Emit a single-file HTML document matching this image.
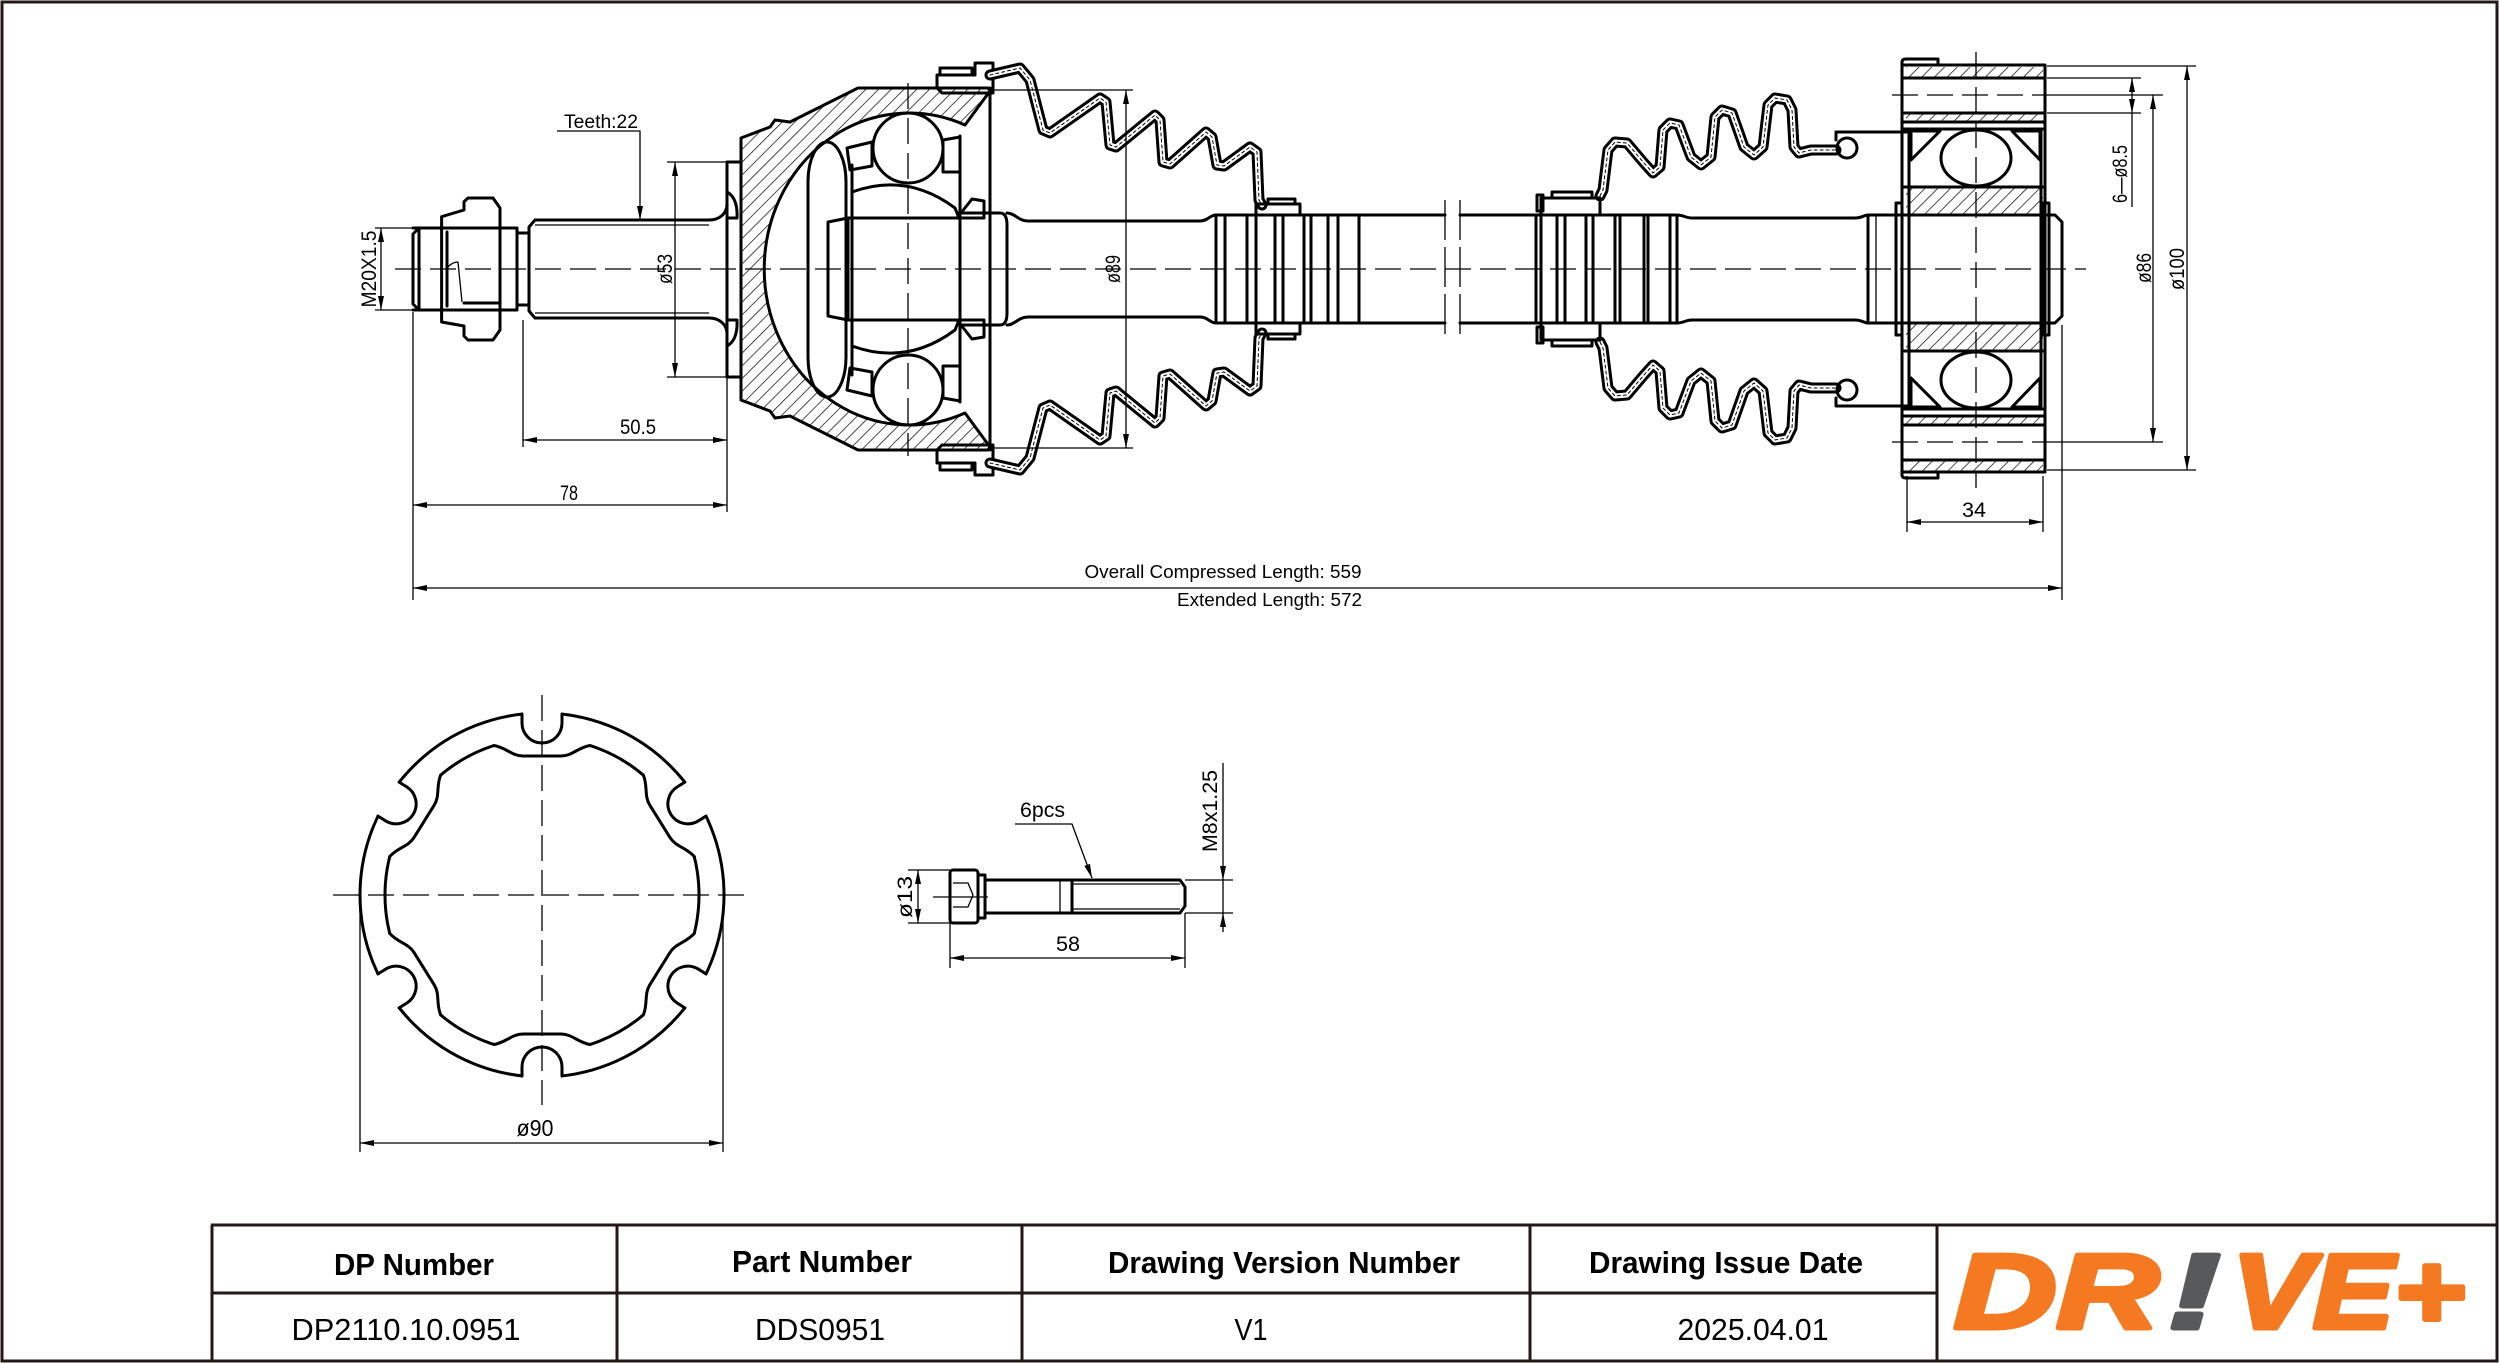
<!DOCTYPE html>
<html><head><meta charset="utf-8"><style>
html,body{margin:0;padding:0;background:#fff}
svg{display:block}
.t{stroke:#000;stroke-width:3;fill:none;stroke-linejoin:round;stroke-linecap:round}
.d{stroke:#000;stroke-width:1.3;fill:none}
.c{stroke:#000;stroke-width:1.3;stroke-dasharray:26 9;fill:none}
text{font-family:"Liberation Sans",sans-serif}
.dm{font-size:21px}
</style></head><body>
<svg xmlns="http://www.w3.org/2000/svg" width="2500" height="1363" viewBox="0 0 2500 1363">
<defs>
<pattern id="h" width="9" height="9" patternUnits="userSpaceOnUse" patternTransform="rotate(45)"><line x1="0" y1="0" x2="0" y2="9" stroke="#000" stroke-width="1.4"/></pattern>
<pattern id="x" width="8" height="8" patternUnits="userSpaceOnUse"><path d="M0,0 L8,8 M8,0 L0,8" stroke="#000" stroke-width="1"/></pattern>
<marker id="ar" viewBox="0 0 14 6" refX="14" refY="3" markerWidth="14" markerHeight="6" markerUnits="userSpaceOnUse" orient="auto-start-reverse"><path d="M0,0 L14,3 L0,6 Z" fill="#000"/></marker>
<g id="n">
<path d="M-19,-188 L19,-188 L19,-175 L-19,-175 Z" fill="#fff"/>
<path d="M-48,-145 L-48,-163 L48,-163 L48,-145 Z" fill="#fff"/>
<path d="M-20,-181 L-20,-172 A20,20 0 0 0 20,-172 L20,-181" class="t"/>
<path d="M-48,-149.5 C-36,-147.5 -30,-139 -19,-139 L19,-139 C30,-139 36,-147.5 48,-149.5" class="t"/>
</g>
</defs>

<!-- page border -->
<rect x="2" y="2" width="2495" height="1359" fill="none" stroke="#231815" stroke-width="3"/>

<!-- ===== LEFT END: thread, nut, spline ===== -->
<path d="M419,228 L413,234 L413,304 L419,310 M419,228 L419,310" class="t"/>
<path d="M413,228 L441,228 M413,310 L441,310 M500,228 L517,228 M500,310 L517,310 M517,228 L517,310 M517,233 L529,233 M517,305 L529,305" class="t"/>
<path d="M441.6,216.7 L464,210 L464,201.7 L468,198 L493,198 L500,208 L500,228 L441.6,228 Z" fill="url(#h)" class="t"/>
<path d="M441.6,228 L441.6,322 L464,326 L464,336 L468,340 L493,340 L500,330 L500,228" class="t"/>
<path d="M441.6,310 L500,310 M464,303 L500,303 M447,232 L447,306" class="t"/>
<path d="M447,268 Q452,262 458,262 M458,262 L462,302" class="d" stroke-width="2"/>
<path d="M535,220 L709,220 M535,318 L709,318 M535,220 L529,227 L529,311 L535,318" class="t"/>
<path d="M535,225 L709,225 M535,313 L709,313" class="d"/>
<path d="M709,220 C719,220 727,214 727,204 M709,318 C719,318 727,324 727,334" class="t"/>
<rect x="727" y="162" width="14" height="215" class="t"/>
<path d="M727,192 Q738,198 737,218 L727,218 Z M727,346 Q738,340 737,320 L727,320 Z" fill="url(#h)" class="t" stroke-width="2"/>

<!-- ===== BELL ===== -->
<path d="M988,88 L858,88 L790,122 L775,120 L770,127 L741,138 L741,400 L770,411 L775,418 L790,416 L858,450 L988,450 L990,447 L965,413 A145,156 0 1 1 965,125 L990,91 Z" fill="url(#h)" stroke="#000" stroke-width="3" stroke-linejoin="round"/>
<path d="M990,88 L990,450" class="t"/>
<rect x="808" y="142" width="38" height="255" rx="19" ry="40" class="t"/>
<path d="M852,192 Q907,172 955,208 L959,218 L852,218 Z" fill="url(#h)" class="t"/>
<path d="M852,346 Q907,366 955,330 L959,320 L852,320 Z" fill="url(#h)" class="t"/>
<path d="M852,165 L852,375 M960,136 L960,402" class="t"/>
<path d="M847,148 L872,142 L872,166 L850,170 Z M943,140 L960,137 L960,172 L943,172 Z M847,390 L872,396 L872,372 L850,368 Z M943,398 L960,401 L960,366 L943,366 Z" fill="url(#h)" class="t" stroke-width="2"/>
<circle cx="908" cy="148" r="35" fill="#fff" class="t"/>
<circle cx="908" cy="390" r="35" fill="#fff" class="t"/>
<path d="M959,218 L848,218 L828,222 L828,316 L848,320 L959,320 M848,218 L848,320" class="t"/>
<path d="M957,218 L972,199 L984,201 L984,218 Z M957,320 L972,339 L984,337 L984,320 Z" fill="url(#x)" class="t" stroke-width="2"/>
<path d="M959,213 L990,213 M959,325 L990,325" class="t"/>
<path d="M990,213 L1000,213 Q1007,213 1007,225 L1007,313 Q1007,325 1000,325 L990,325" class="t"/>
<!-- bell clamps -->
<path d="M937,75 L975,75 L975,63 L993,63 L993,93 L942,93 L937,88 Z" fill="url(#x)" class="t" stroke-width="2.5"/>
<rect x="940" y="68" width="32" height="7" fill="#fff" class="t" stroke-width="2.5"/>
<path d="M937,463 L975,463 L975,475 L993,475 L993,445 L942,445 L937,450 Z" fill="url(#x)" class="t" stroke-width="2.5"/>
<rect x="940" y="463" width="32" height="7" fill="#fff" class="t" stroke-width="2.5"/>

<!-- ===== LEFT BOOT ===== -->
<g fill="none" stroke-linejoin="round" stroke-linecap="round">
<polyline stroke="#000" stroke-width="11" points="990,75 1020,68 1030,80 1043,130 1050,133 1100,98 1106,102 1110,145 1116,147 1155,115 1160,120 1163,162 1170,164 1206,132 1212,137 1217,165 1224,166 1250,147 1257,152 1259,200 1262,205"/>
<polyline stroke="#fff" stroke-width="5" points="990,75 1020,68 1030,80 1043,130 1050,133 1100,98 1106,102 1110,145 1116,147 1155,115 1160,120 1163,162 1170,164 1206,132 1212,137 1217,165 1224,166 1250,147 1257,152 1259,200 1262,205"/>
<polyline stroke="#000" stroke-width="1" stroke-dasharray="3 3" points="990,75 1020,68 1030,80 1043,130 1050,133 1100,98 1106,102 1110,145 1116,147 1155,115 1160,120 1163,162 1170,164 1206,132 1212,137 1217,165 1224,166 1250,147 1257,152 1259,200 1262,205"/>
<polyline stroke="#000" stroke-width="11" points="990,463 1020,470 1030,458 1043,408 1050,405 1100,440 1106,436 1110,393 1116,391 1155,423 1160,418 1163,376 1170,374 1206,406 1212,401 1217,373 1224,372 1250,391 1257,386 1259,338 1262,333"/>
<polyline stroke="#fff" stroke-width="5" points="990,463 1020,470 1030,458 1043,408 1050,405 1100,440 1106,436 1110,393 1116,391 1155,423 1160,418 1163,376 1170,374 1206,406 1212,401 1217,373 1224,372 1250,391 1257,386 1259,338 1262,333"/>
<polyline stroke="#000" stroke-width="1" stroke-dasharray="3 3" points="990,463 1020,470 1030,458 1043,408 1050,405 1100,440 1106,436 1110,393 1116,391 1155,423 1160,418 1163,376 1170,374 1206,406 1212,401 1217,373 1224,372 1250,391 1257,386 1259,338 1262,333"/>
</g>
<rect x="1256" y="204" width="44" height="11" fill="url(#x)" class="t" stroke-width="2.5"/>
<rect x="1268" y="199" width="27" height="5" fill="#fff" class="t" stroke-width="2.5"/>
<rect x="1256" y="323" width="44" height="11" fill="url(#x)" class="t" stroke-width="2.5"/>
<rect x="1268" y="334" width="27" height="5" fill="#fff" class="t" stroke-width="2.5"/>

<!-- ===== SHAFT ===== -->
<path d="M1007,213 C1015,213 1018,221 1028,221 L1200,221 C1208,221 1210,215 1216,215 L1445,215" class="t"/>
<path d="M1007,325 C1015,325 1018,317 1028,317 L1200,317 C1208,317 1210,323 1216,323 L1445,323" class="t"/>
<path d="M1216,215 L1216,323 M1225,215 L1225,323 M1247,215 L1247,323 M1256,215 L1256,323 M1275,215 L1275,323 M1283,215 L1283,323 M1304,215 L1304,323 M1311,215 L1311,323 M1328,215 L1328,323 M1338,215 L1338,323 M1359,215 L1359,323" class="t" stroke-width="2.5"/>
<path d="M1445,200 L1445,338 M1460,200 L1460,338" class="d" stroke-width="2" stroke-dasharray="40 7"/>
<path d="M1460,215 L1677,215 C1683,215 1686,218 1692,218 L1855,218 C1862,218 1864,215 1868,215 L1902,215" class="t"/>
<path d="M1460,323 L1677,323 C1683,323 1686,320 1692,320 L1855,320 C1862,320 1864,323 1868,323 L1902,323" class="t"/>
<path d="M1536,215 L1536,323 M1541,215 L1541,323 M1557,215 L1557,323 M1565,215 L1565,323 M1586,215 L1586,323 M1593,215 L1593,323 M1615,215 L1615,323 M1620,215 L1620,323 M1644,215 L1644,323 M1648,215 L1648,323 M1670,215 L1670,323 M1677,215 L1677,323 M1868,215 L1868,323" class="t" stroke-width="2.5"/>
<path d="M1876,215 L1876,323" class="d"/>

<!-- ===== RIGHT BOOT ===== -->
<g fill="none" stroke-linejoin="round" stroke-linecap="round">
<polyline stroke="#000" stroke-width="11" points="1600,196 1603,190 1608,150 1615,142 1627,143 1644,163 1653,173 1660,167 1663,130 1670,123 1679,125 1691,157 1701,165 1711,157 1715,117 1722,110 1732,113 1744,147 1754,155 1763,147 1768,105 1775,98 1787,100 1792,110 1794,147 1799,153 1811,150 1836,150"/>
<polyline stroke="#fff" stroke-width="5" points="1600,196 1603,190 1608,150 1615,142 1627,143 1644,163 1653,173 1660,167 1663,130 1670,123 1679,125 1691,157 1701,165 1711,157 1715,117 1722,110 1732,113 1744,147 1754,155 1763,147 1768,105 1775,98 1787,100 1792,110 1794,147 1799,153 1811,150 1836,150"/>
<polyline stroke="#000" stroke-width="1" stroke-dasharray="3 3" points="1600,196 1603,190 1608,150 1615,142 1627,143 1644,163 1653,173 1660,167 1663,130 1670,123 1679,125 1691,157 1701,165 1711,157 1715,117 1722,110 1732,113 1744,147 1754,155 1763,147 1768,105 1775,98 1787,100 1792,110 1794,147 1799,153 1811,150 1836,150"/>
<polyline stroke="#000" stroke-width="11" points="1600,342 1603,348 1608,388 1615,396 1627,395 1644,375 1653,365 1660,371 1663,408 1670,415 1679,413 1691,381 1701,373 1711,381 1715,421 1722,428 1732,425 1744,391 1754,383 1763,391 1768,433 1775,440 1787,438 1792,428 1794,391 1799,385 1811,388 1836,388"/>
<polyline stroke="#fff" stroke-width="5" points="1600,342 1603,348 1608,388 1615,396 1627,395 1644,375 1653,365 1660,371 1663,408 1670,415 1679,413 1691,381 1701,373 1711,381 1715,421 1722,428 1732,425 1744,391 1754,383 1763,391 1768,433 1775,440 1787,438 1792,428 1794,391 1799,385 1811,388 1836,388"/>
<polyline stroke="#000" stroke-width="1" stroke-dasharray="3 3" points="1600,342 1603,348 1608,388 1615,396 1627,395 1644,375 1653,365 1660,371 1663,408 1670,415 1679,413 1691,381 1701,373 1711,381 1715,421 1722,428 1732,425 1744,391 1754,383 1763,391 1768,433 1775,440 1787,438 1792,428 1794,391 1799,385 1811,388 1836,388"/>
</g>
<rect x="1541" y="198" width="59" height="17" fill="url(#x)" class="t" stroke-width="2.5"/>
<rect x="1552" y="192" width="40" height="6" fill="#fff" class="t" stroke-width="2.5"/>
<rect x="1537" y="195" width="6" height="16" fill="#fff" class="t" stroke-width="2"/>
<rect x="1541" y="323" width="59" height="17" fill="url(#x)" class="t" stroke-width="2.5"/>
<rect x="1552" y="340" width="40" height="6" fill="#fff" class="t" stroke-width="2.5"/>
<rect x="1537" y="327" width="6" height="16" fill="#fff" class="t" stroke-width="2"/>
<circle cx="1847" cy="148" r="10" fill="#fff" class="t"/>
<circle cx="1847" cy="390" r="10" fill="#fff" class="t"/>
<path d="M1836,140 L1836,132 L1907,132 M1836,398 L1836,406 L1907,406" class="t"/>

<!-- ===== BEARING / FLANGE ===== -->
<rect x="1906" y="67" width="137" height="11" fill="url(#h)"/>
<rect x="1906" y="113" width="137" height="9" fill="url(#h)"/>
<rect x="1906" y="187" width="137" height="28" fill="url(#h)"/>
<rect x="1906" y="323" width="137" height="28" fill="url(#h)"/>
<rect x="1906" y="416" width="137" height="9" fill="url(#h)"/>
<rect x="1906" y="460" width="137" height="11" fill="url(#h)"/>
<path d="M1911,131 L1940,131 L1911,160 Z M2012,131 L2040,131 L2040,160 Z M1911,407 L1940,407 L1911,378 Z M2012,407 L2040,407 L2040,378 Z" fill="url(#h)" class="t" stroke-width="1.5"/>
<path d="M1902,78 L2045,78 M1902,113 L2045,113 M1902,122 L2045,122 M1902,187 L2045,187 M1902,351 L2045,351 M1902,416 L2045,416 M1902,425 L2045,425 M1902,460 L2045,460" class="t" stroke-width="2.2"/>
<path d="M1902,129 L2045,129 M1902,409 L2045,409" class="t" stroke-width="4.5"/>
<path d="M1909,129 L1909,409 M2041,129 L2041,409" class="t" stroke-width="2"/>
<ellipse cx="1976" cy="158" rx="35" ry="28" fill="#fff" class="t"/>
<ellipse cx="1976" cy="380" rx="35" ry="28" fill="#fff" class="t"/>
<path d="M1902,215 L2055,215 L2062,222 L2062,316 L2055,323 L1902,323" class="t"/>
<path d="M2045,213 L2045,325" class="t"/>
<rect x="1896" y="203" width="6" height="132" fill="url(#h)" class="t" stroke-width="1.5"/>
<rect x="2042" y="203" width="7" height="132" fill="none" class="t" stroke-width="2"/>
<rect x="1902" y="65" width="143" height="407" class="t" stroke-width="4"/>
<path d="M1902,66 L1902,62 Q1902,59 1906,59 L1938,59 L1938,65 M1902,471 L1902,475 Q1902,478 1906,478 L1938,478 L1938,472" class="t"/>

<!-- ===== CENTERLINES ===== -->
<path d="M395,269 L2086,269" class="c"/>
<path d="M908,83 L908,456" class="c"/>
<path d="M1976,52 L1976,488" class="c"/>
<path d="M1892,95 L2045,95 M1892,442 L2045,442" class="c"/>
<path d="M2045,95 L2163,95 M2045,442 L2163,442" class="d"/>

<!-- ===== DIMENSIONS (main) ===== -->
<path d="M375,228 L415,228 M375,310 L415,310" class="d"/>
<line x1="381" y1="228" x2="381" y2="310" class="d" marker-start="url(#ar)" marker-end="url(#ar)"/>
<text class="dm" transform="translate(376,269) rotate(-90)" text-anchor="middle" textLength="77" lengthAdjust="spacingAndGlyphs">M20X1.5</text>

<path d="M667,162 L727,162 M667,377 L727,377" class="d"/>
<line x1="675" y1="162" x2="675" y2="377" class="d" marker-start="url(#ar)" marker-end="url(#ar)"/>
<text class="dm" transform="translate(672,269) rotate(-90)" text-anchor="middle" textLength="30" lengthAdjust="spacingAndGlyphs">ø53</text>

<text x="564" y="128" font-size="19" textLength="74" lengthAdjust="spacingAndGlyphs">Teeth:22</text>
<polyline points="557,131 640,131 640,220" class="d" marker-end="url(#ar)"/>

<path d="M413,312 L413,600 M523,320 L523,447 M727,377 L727,512" class="d"/>
<line x1="523" y1="440" x2="727" y2="440" class="d" marker-start="url(#ar)" marker-end="url(#ar)"/>
<text class="dm" x="638" y="434" text-anchor="middle" textLength="36" lengthAdjust="spacingAndGlyphs">50.5</text>
<line x1="413" y1="505" x2="727" y2="505" class="d" marker-start="url(#ar)" marker-end="url(#ar)"/>
<text class="dm" x="569" y="500" text-anchor="middle" textLength="18" lengthAdjust="spacingAndGlyphs">78</text>

<path d="M993,90 L1133,90 M993,448 L1133,448" class="d"/>
<line x1="1126" y1="90" x2="1126" y2="448" class="d" marker-start="url(#ar)" marker-end="url(#ar)"/>
<text class="dm" transform="translate(1120,269) rotate(-90)" text-anchor="middle" textLength="28" lengthAdjust="spacingAndGlyphs">ø89</text>

<path d="M2062,325 L2062,600" class="d"/>
<line x1="413" y1="588" x2="2062" y2="588" class="d" stroke-width="1.6" marker-start="url(#ar)" marker-end="url(#ar)"/>
<text x="1223" y="578" font-size="18" text-anchor="middle" textLength="277" lengthAdjust="spacingAndGlyphs">Overall  Compressed  Length: 559</text>
<text x="1177" y="606" font-size="18" textLength="185" lengthAdjust="spacingAndGlyphs">Extended  Length: 572</text>

<path d="M1907,476 L1907,532 M2043,476 L2043,532" class="d"/>
<line x1="1907" y1="522" x2="2043" y2="522" class="d" marker-start="url(#ar)" marker-end="url(#ar)"/>
<text class="dm" x="1974" y="517" text-anchor="middle" textLength="24" lengthAdjust="spacingAndGlyphs">34</text>

<path d="M2047,66 L2196,66 M2047,470 L2196,470 M2047,78 L2141,78 M2047,113 L2141,113" class="d"/>
<line x1="2187" y1="66" x2="2187" y2="470" class="d" marker-start="url(#ar)" marker-end="url(#ar)"/>
<line x1="2153" y1="95" x2="2153" y2="442" class="d" marker-start="url(#ar)" marker-end="url(#ar)"/>
<line x1="2132" y1="78" x2="2132" y2="113" class="d" marker-start="url(#ar)" marker-end="url(#ar)"/>
<line x1="2132" y1="113" x2="2132" y2="207" class="d"/>
<text class="dm" transform="translate(2184,269) rotate(-90)" text-anchor="middle" textLength="42" lengthAdjust="spacingAndGlyphs">ø100</text>
<text class="dm" transform="translate(2151,268) rotate(-90)" text-anchor="middle" textLength="30" lengthAdjust="spacingAndGlyphs">ø86</text>
<text class="dm" transform="translate(2127,174) rotate(-90)" text-anchor="middle" textLength="58" lengthAdjust="spacingAndGlyphs">6—ø8.5</text>

<!-- ===== FLANGE RING ===== -->
<g transform="translate(542,895)">
<circle r="182" class="t"/>
<circle r="157" class="t"/>
<use href="#n"/>
<use href="#n" transform="rotate(58)"/>
<use href="#n" transform="rotate(122)"/>
<use href="#n" transform="rotate(180)"/>
<use href="#n" transform="rotate(238)"/>
<use href="#n" transform="rotate(302)"/>
</g>
<path d="M333,895 L751,895 M542,695 L542,1105" class="c"/>
<path d="M360,905 L360,1152 M723,905 L723,1152" class="d"/>
<line x1="360" y1="1143" x2="723" y2="1143" class="d" marker-start="url(#ar)" marker-end="url(#ar)"/>
<text x="535" y="1136" font-size="23" text-anchor="middle" textLength="37" lengthAdjust="spacingAndGlyphs">ø90</text>

<!-- ===== BOLT ===== -->
<rect x="950" y="870" width="28" height="53" rx="3" class="t"/>
<rect x="978" y="875" width="7" height="43" class="t"/>
<path d="M953,883 L968,883 L973,895 L968,907 L953,907" class="d" stroke-width="1.6"/>
<path d="M985,880 L1180,880 L1185,887 L1185,906 L1180,913 L985,913" class="t"/>
<path d="M1072,880 L1072,913" class="t"/>
<path d="M1060,880 L1060,913 M1072,884 L1180,884 M1072,909 L1180,909 M933,897 L988,897" class="d"/>
<path d="M908,870 L950,870 M908,923 L950,923" class="d"/>
<line x1="918" y1="870" x2="918" y2="923" class="d" marker-start="url(#ar)" marker-end="url(#ar)"/>
<text class="dm" transform="translate(912,897) rotate(-90)" text-anchor="middle" textLength="42" lengthAdjust="spacingAndGlyphs">ø13</text>
<path d="M950,923 L950,968 M1185,913 L1185,968" class="d"/>
<line x1="950" y1="958" x2="1185" y2="958" class="d" marker-start="url(#ar)" marker-end="url(#ar)"/>
<text class="dm" x="1068" y="951" text-anchor="middle" textLength="24" lengthAdjust="spacingAndGlyphs">58</text>
<path d="M1185,880 L1233,880 M1185,913 L1233,913 M1223,880 L1223,913" class="d"/>
<line x1="1223" y1="763" x2="1223" y2="880" class="d" marker-end="url(#ar)"/>
<line x1="1223" y1="932" x2="1223" y2="913" class="d" marker-end="url(#ar)"/>
<text class="dm" transform="translate(1217,811) rotate(-90)" text-anchor="middle" textLength="82" lengthAdjust="spacingAndGlyphs">M8x1.25</text>
<text class="dm" x="1020" y="817" textLength="45" lengthAdjust="spacingAndGlyphs">6pcs</text>
<polyline points="1015,824 1072,824 1092,878" class="d" marker-end="url(#ar)"/>

<!-- ===== TITLE TABLE ===== -->
<g stroke="#231815" stroke-width="3" fill="none">
<path d="M211,1225 L2497,1225 M211,1293 L1937,1293 M211,1361 L2497,1361"/>
<path d="M212,1225 L212,1361 M617,1225 L617,1361 M1022,1225 L1022,1361 M1530,1225 L1530,1361 M1937,1225 L1937,1361 M2497,1225 L2497,1361"/>
</g>
<g font-size="31" font-weight="bold" text-anchor="middle">
<text x="414" y="1275" textLength="160" lengthAdjust="spacingAndGlyphs">DP Number</text>
<text x="822" y="1272" textLength="180" lengthAdjust="spacingAndGlyphs">Part Number</text>
<text x="1284" y="1273" textLength="352" lengthAdjust="spacingAndGlyphs">Drawing Version Number</text>
<text x="1726" y="1273" textLength="274" lengthAdjust="spacingAndGlyphs">Drawing Issue Date</text>
</g>
<g font-size="31" text-anchor="middle">
<text x="406" y="1340" textLength="229" lengthAdjust="spacingAndGlyphs">DP2110.10.0951</text>
<text x="820" y="1340" textLength="130" lengthAdjust="spacingAndGlyphs">DDS0951</text>
<text x="1251" y="1340" textLength="33" lengthAdjust="spacingAndGlyphs">V1</text>
<text x="1753" y="1340" textLength="151" lengthAdjust="spacingAndGlyphs">2025.04.01</text>
</g>
<!-- logo -->
<g font-weight="bold" font-style="italic" font-size="106">
<text x="1954" y="1328" style="fill:#f47920;stroke:#f47920;stroke-width:5;stroke-linejoin:round" textLength="205" lengthAdjust="spacingAndGlyphs">DR</text>
<text x="2168" y="1328" style="fill:#58595b;stroke:#58595b;stroke-width:5;stroke-linejoin:round" textLength="52" lengthAdjust="spacingAndGlyphs">!</text>
<text x="2232" y="1328" style="fill:#f47920;stroke:#f47920;stroke-width:5;stroke-linejoin:round" textLength="233" lengthAdjust="spacingAndGlyphs">VE+</text>
</g>
</svg>
</body></html>
